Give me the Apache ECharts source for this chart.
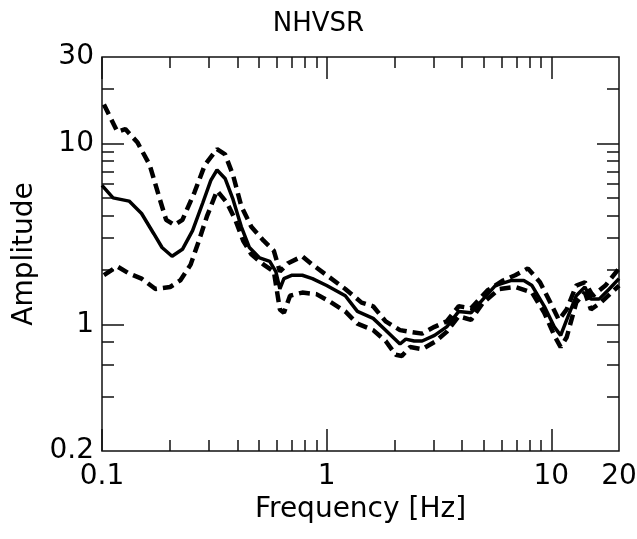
<!DOCTYPE html>
<html>
<head>
<meta charset="utf-8">
<script src="https://cdn.jsdelivr.net/npm/echarts@6/dist/echarts.min.js"></script>
<style>
html,body{margin:0;padding:0;background:#fff;}
#chart{width:637px;height:539px;}
</style>
</head>
<body>
<div id="chart"></div>
<script>
// ---- data ----
const titleText = 'NHVSR';
const xName = 'Frequency [Hz]';
const yName = 'Amplitude';

const xLabelValues = [0.1, 1, 10, 20];
const xMajorTicks = [0.1, 1, 10];
const xMinorTicks = [0.2,0.3,0.4,0.5,0.6,0.7,0.8,0.9,2,3,4,5,6,7,8,9];
const yLabelValues = [0.2, 1, 10, 30];
const yMajorTicks = [1, 10];
const yMinorTicks = [0.4,0.6,0.8,2,3,4,5,6,7,8,9,20];

const meanFreq = [0.1,0.112,0.132,0.15,0.17,0.185,0.205,0.228,0.253,0.281,0.305,0.325,0.353,0.383,0.417,0.453,0.503,0.558,0.594,0.619,0.645,0.702,0.779,0.864,1.0,1.21,1.37,1.61,1.83,2.12,2.25,2.45,2.66,3.02,3.42,3.87,4.39,4.97,5.63,6.65,7.54,8.2,9.3,10.3,11.0,11.7,12.9,14.1,15.0,16.3,18.1,20];
const meanAmp  = [5.86,5.0,4.8,4.1,3.17,2.66,2.38,2.6,3.3,4.7,6.25,7.13,6.4,4.9,3.46,2.66,2.33,2.23,1.96,1.57,1.79,1.87,1.87,1.79,1.64,1.44,1.18,1.08,0.93,0.78,0.83,0.81,0.81,0.87,0.97,1.18,1.16,1.38,1.64,1.75,1.75,1.64,1.26,0.97,0.87,1.06,1.44,1.61,1.38,1.38,1.57,1.79];

const upperFreq = [0.102,0.117,0.127,0.144,0.163,0.181,0.193,0.21,0.228,0.258,0.287,0.325,0.353,0.383,0.417,0.462,0.524,0.582,0.619,0.673,0.779,0.864,1.0,1.21,1.43,1.61,1.83,2.12,2.35,2.66,3.02,3.42,3.87,4.39,5.19,6.1,6.9,7.86,8.9,9.9,10.8,11.7,12.9,14.1,15.3,17.4,20];
const upperAmp  = [16.4,11.6,12,10.1,7.6,4.9,3.78,3.54,3.78,5.37,7.6,9.3,8.7,6.68,4.5,3.46,2.9,2.55,1.96,2.18,2.38,2.14,1.87,1.57,1.32,1.26,1.04,0.93,0.91,0.89,0.97,1.04,1.26,1.23,1.54,1.75,1.87,2.04,1.71,1.32,1.06,1.21,1.64,1.71,1.44,1.64,2.04];

const lowerFreq = [0.102,0.117,0.132,0.15,0.173,0.201,0.223,0.248,0.27,0.293,0.325,0.36,0.392,0.425,0.462,0.524,0.582,0.619,0.645,0.687,0.779,0.9,1.02,1.21,1.37,1.61,1.83,2.03,2.16,2.35,2.66,3.02,3.42,3.87,4.39,4.97,5.87,6.9,8.2,9.3,10.3,11.0,11.7,12.9,14.1,15.0,16.6,20];
const lowerAmp  = [1.87,2.09,1.91,1.79,1.57,1.61,1.75,2.14,2.9,3.95,5.48,4.7,3.78,2.9,2.44,2.14,1.96,1.21,1.16,1.44,1.5,1.47,1.35,1.18,1.01,0.93,0.81,0.68,0.67,0.75,0.73,0.8,0.91,1.11,1.06,1.32,1.57,1.61,1.5,1.16,0.87,0.75,0.85,1.32,1.5,1.21,1.32,1.64];

// ---- chart ----
const FONT = 'DejaVu Sans';
const zip = (xs, ys) => xs.map((x, i) => [x, ys[i]]);
const fmt = v => String(+(+v).toPrecision(6));

const X_MIN = 0.1, X_MAX = 20, Y_MIN = 0.2, Y_MAX = 30;
const lineCol = '#111';

function xAx(pos, ticks, len, labels, extra) {
  return Object.assign({
    type: 'log', logBase: 10, min: X_MIN, max: X_MAX, position: pos,
    gridIndex: 0,
    axisLine: { show: false },
    axisTick: { show: true, inside: true, length: len, customValues: ticks,
                lineStyle: { color: lineCol, width: 1.5 } },
    axisLabel: labels ? { show: true, customValues: labels, formatter: fmt, margin: 12,
                fontFamily: FONT, fontSize: 28, color: '#000' } : { show: false },
    splitLine: { show: false }, minorTick: { show: false }
  }, extra || {});
}
function yAx(pos, ticks, len, labels, extra) {
  return Object.assign({
    type: 'log', logBase: 10, min: Y_MIN, max: Y_MAX, position: pos,
    gridIndex: 0,
    axisLine: { show: false },
    axisTick: { show: true, inside: true, length: len, customValues: ticks,
                lineStyle: { color: lineCol, width: 1.5 } },
    axisLabel: labels ? { show: true, customValues: labels, formatter: fmt, margin: 8,
                fontFamily: FONT, fontSize: 28, color: '#000' } : { show: false },
    splitLine: { show: false }, minorTick: { show: false }
  }, extra || {});
}

const chart = echarts.init(document.getElementById('chart'), null, { renderer: 'canvas' });
chart.setOption({
  backgroundColor: '#fff',
  animation: false,
  title: {
    text: titleText, left: 'center', top: 6,
    textStyle: { fontFamily: FONT, fontSize: 26, fontWeight: 'normal', color: '#000' }
  },
  grid: { left: 102, right: 18, top: 57, bottom: 88, containLabel: false, outerBoundsMode: 'none',
          show: true, borderColor: lineCol, borderWidth: 1.5, backgroundColor: 'transparent' },
  xAxis: [
    xAx('bottom', xMajorTicks, 22, xLabelValues, {
      name: xName, nameLocation: 'middle', nameGap: 36,
      nameTextStyle: { fontFamily: FONT, fontSize: 28, color: '#000' }
    }),
    xAx('bottom', xMinorTicks, 11, null),
    xAx('top', xMajorTicks, 22, null),
    xAx('top', xMinorTicks, 11, null)
  ],
  yAxis: [
    yAx('left', yMajorTicks, 22, yLabelValues, {
      name: yName, nameLocation: 'middle', nameGap: 60, nameRotate: 90,
      nameTextStyle: { fontFamily: FONT, fontSize: 28, color: '#000' }
    }),
    yAx('left', yMinorTicks, 12, null),
    yAx('right', yMajorTicks, 22, null),
    yAx('right', yMinorTicks, 12, null)
  ],
  series: [
    { type: 'line', name: 'upper', xAxisIndex: 0, yAxisIndex: 0, data: zip(upperFreq, upperAmp),
      showSymbol: false, symbol: 'none', lineStyle: { color: '#000', width: 4.5, type: [11, 6] }, z: 3 },
    { type: 'line', name: 'lower', xAxisIndex: 0, yAxisIndex: 0, data: zip(lowerFreq, lowerAmp),
      showSymbol: false, symbol: 'none', lineStyle: { color: '#000', width: 4.5, type: [11, 6] }, z: 3 },
    { type: 'line', name: 'mean', xAxisIndex: 0, yAxisIndex: 0, data: zip(meanFreq, meanAmp),
      showSymbol: false, symbol: 'none', lineStyle: { color: '#000', width: 3.5, type: 'solid' }, z: 4 }
  ]
});
</script>
</body>
</html>
